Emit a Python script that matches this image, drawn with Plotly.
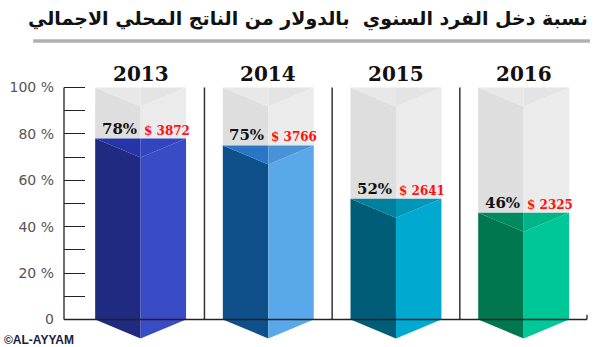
import plotly.graph_objects as go

# ---- data ----
years = ["2013", "2014", "2015", "2016"]
pct = [78, 75, 52, 46]
usd = [3872, 3766, 2641, 2325]
y_tickvals = [0, 20, 40, 60, 80, 100]
y_ticktext = ["0", "20 %", "40 %", "60 %", "80 %", "100 %"]
title_text = "نسبة دخل الفرد السنوي  بالدولار من الناتج المحلي الاجمالي"
credit_text = "©AL-AYYAM"

# ---- style ----
face_left = ["#1f2a80", "#0f4f8a", "#005d78", "#00774f"]
face_right = ["#3a4bc6", "#58a8ea", "#00a9cf", "#00c797"]
top_left = ["#2534a8", "#2a76c6", "#007f9f", "#008a60"]
top_right = ["#3344c0", "#4a92d8", "#0096b8", "#00b585"]
gray_left, gray_right, gray_top_l, gray_top_r = "#dedede", "#ebebeb", "#e8e8e8", "#e4e4e4"
HW = 0.356   # half bar width (x units)
D = 8.2      # depth of prism slope (y units)
YMAX = 100

fig = go.Figure()

def poly(xs, ys, color):
    fig.add_trace(go.Scatter(x=xs + [xs[0]], y=ys + [ys[0]], mode="lines", fill="toself",
                             fillcolor=color, line=dict(width=0), hoverinfo="skip",
                             showlegend=False))

for i, (yr, v) in enumerate(zip(years, pct)):
    c = i
    l, r = c - HW, c + HW
    # background gray column
    poly([l, c, c, l], [YMAX, YMAX - D, v, v], gray_left)
    poly([c, r, r, c], [YMAX - D, YMAX, v, v], gray_right)
    poly([l, c, c], [YMAX, YMAX, YMAX - D], gray_top_l)
    poly([c, r, c], [YMAX, YMAX, YMAX - D], gray_top_r)
    # coloured prism
    poly([l, c, c, l], [v, v - D, -D, 0], face_left[i])
    poly([c, r, r, c], [v - D, v, 0, -D], face_right[i])
    poly([l, c, c], [v, v, v - D], top_left[i])
    poly([c, r, c], [v, v, v - D], top_right[i])

shapes = []
# separators between bars
for i in range(len(years) - 1):
    shapes.append(dict(type="line", xref="x", yref="y", x0=i + 0.5, x1=i + 0.5, y0=0, y1=YMAX,
                       line=dict(color="#333333", width=1.5)))
# y axis line (0..100)
shapes.append(dict(type="line", xref="paper", yref="y", x0=0, x1=0, y0=0, y1=YMAX,
                   line=dict(color="#222222", width=1.3)))
# baseline
shapes.append(dict(type="line", xref="paper", yref="y", x0=0, x1=1, y0=0, y1=0,
                   line=dict(color="#222222", width=1.3)))
shapes.append(dict(type="line", xref="paper", yref="y", x0=1, x1=1, y0=0, y1=2,
                   line=dict(color="#222222", width=1.3)))
# title underline
shapes.append(dict(type="line", xref="paper", yref="paper", x0=-0.059, x1=1.0057,
                   y0=1.0592, y1=1.0592, line=dict(color="#b0b0b0", width=3.5)))

annotations = []
for i, (yr, v, u) in enumerate(zip(years, pct, usd)):
    annotations.append(dict(x=i, y=YMAX, xref="x", yref="y", text=f"<b>{yr}</b>", showarrow=False,
                            yanchor="bottom", yshift=-1,
                            font=dict(family="DejaVu Serif", size=20, color="#111111")))
    annotations.append(dict(x=i, y=v, xref="x", yref="y", text=f"<b>{v}%</b>", showarrow=False,
                            xanchor="right", yanchor="bottom", xshift=-2, yshift=-1,
                            font=dict(family="DejaVu Serif", size=15, color="#111111")))
    annotations.append(dict(x=i, y=v, xref="x", yref="y", text=f"<b>$ {u}</b>", showarrow=False,
                            xanchor="left", yanchor="bottom", xshift=1, yshift=-1,
                            font=dict(family="DejaVu Serif", size=12, color="#ff1010")))

annotations.append(dict(x=1.0057, y=1.135, xref="paper", yref="paper", text=f"<b>{title_text}</b>",
                        showarrow=False, xanchor="right", yanchor="middle",
                        font=dict(family="DejaVu Sans", size=19, color="#111111")))
annotations.append(dict(x=-0.1185, y=0.0174, xref="paper", yref="paper", text=f"<b>{credit_text}</b>",
                        showarrow=False, xanchor="left", yanchor="middle",
                        font=dict(family="Liberation Sans", size=12, color="#1c1c3c")))

fig.update_layout(
    width=600, height=347,
    margin=dict(l=64, r=13, t=58, b=2),
    plot_bgcolor="white", paper_bgcolor="white",
    xaxis=dict(range=[-0.6, 3.496], visible=False, fixedrange=True),
    yaxis=dict(range=[-11, 112.7], showgrid=False, zeroline=False, showline=False,
               tickmode="array", tickvals=y_tickvals, ticktext=y_ticktext,
               ticks="inside", ticklen=21, tickcolor="#222222", tickwidth=1.3,
               ticklabelstandoff=9,
               tickfont=dict(family="DejaVu Sans", size=14, color="#555555"),
               minor=dict(tickmode="array", tickvals=[10, 30, 50, 70, 90], ticks="inside",
                          ticklen=21, tickcolor="#222222", tickwidth=1.3),
               fixedrange=True),
    shapes=shapes,
    annotations=annotations,
    showlegend=False,
)

fig.write_html("out.html")
